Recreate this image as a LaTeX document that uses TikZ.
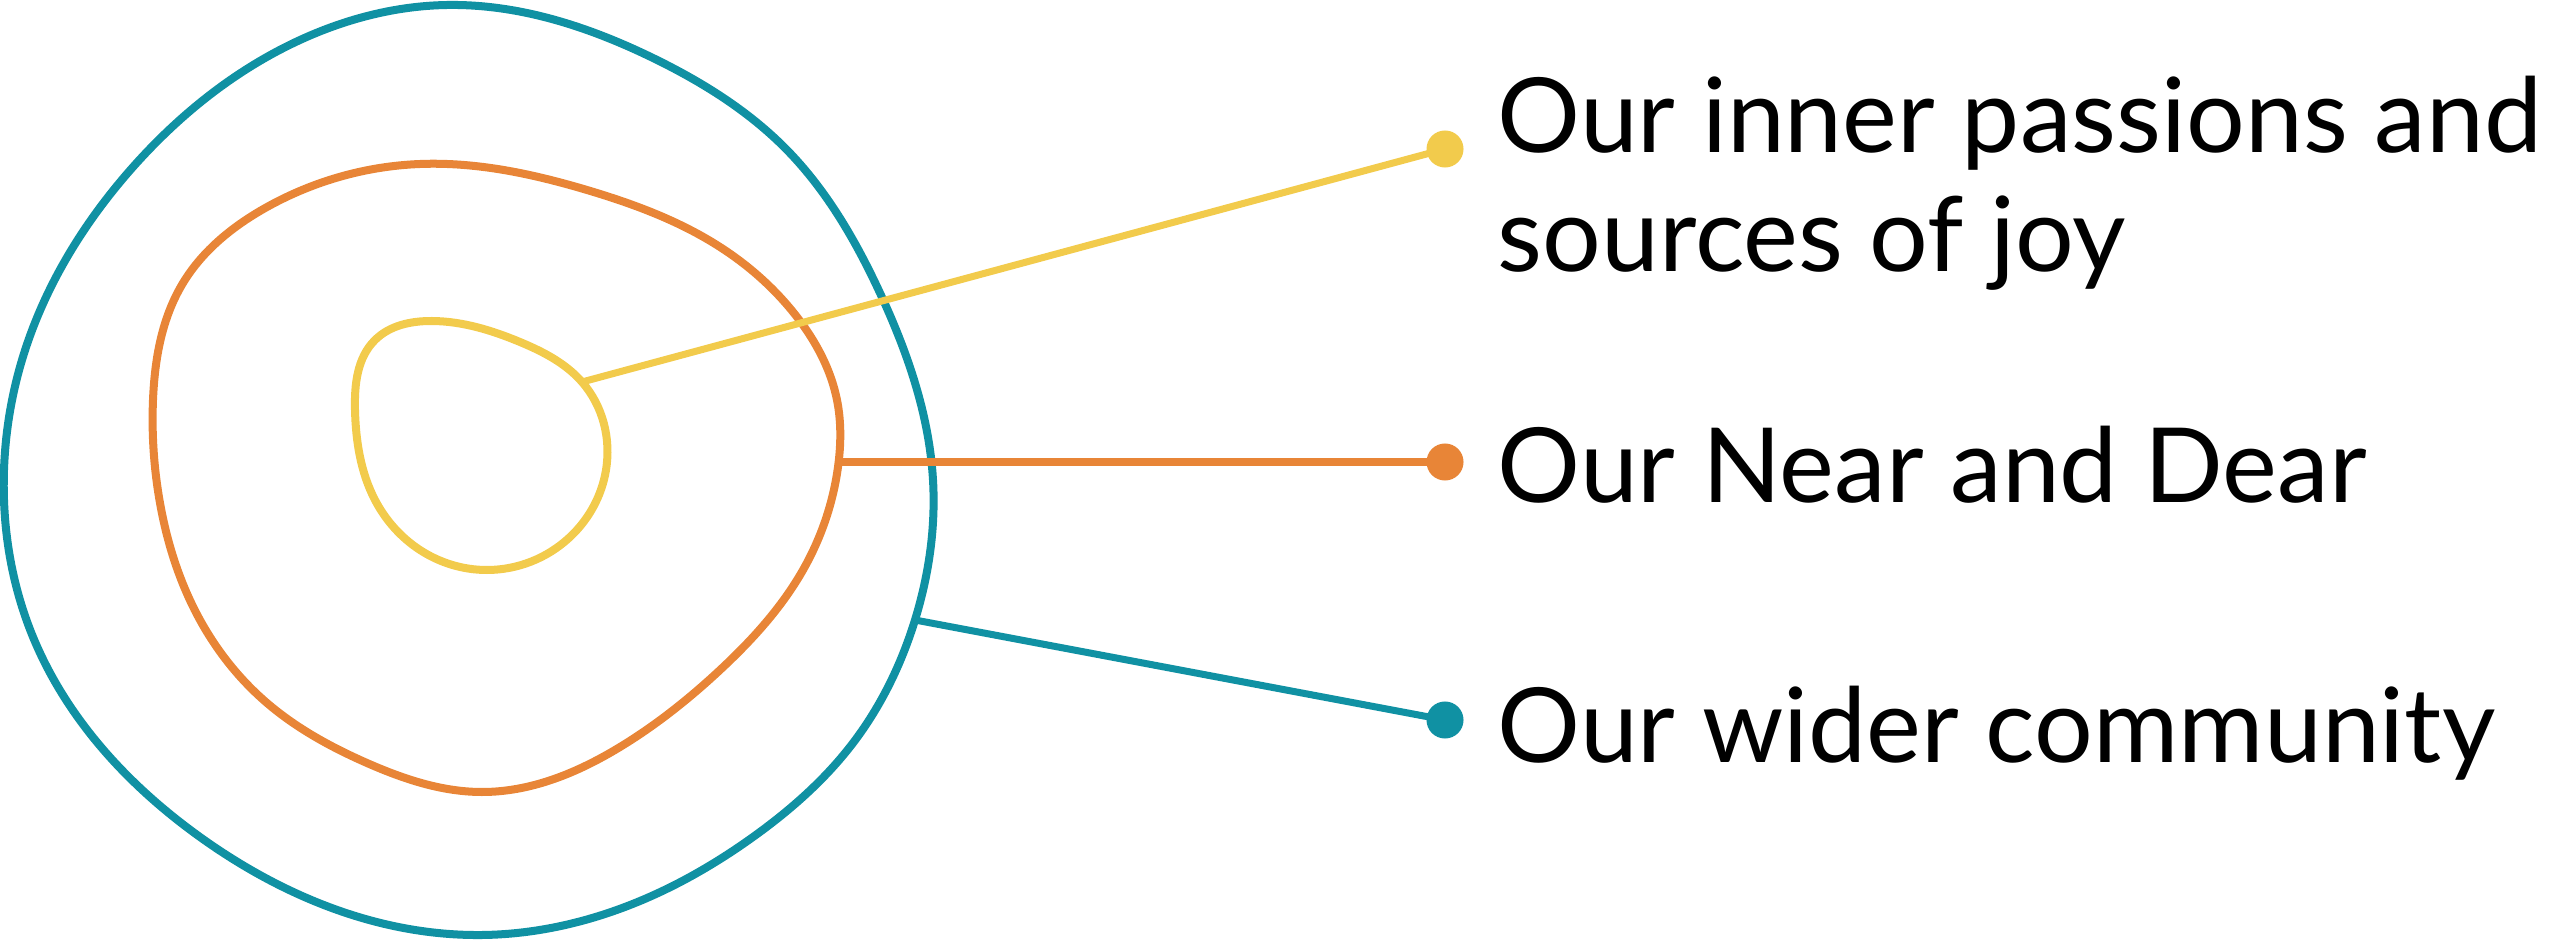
\documentclass[tikz,border=0pt]{standalone}
\usepackage{fontspec}
\setmainfont{Lato}
\usetikzlibrary{hobby}
\definecolor{cteal}{RGB}{16,145,163}
\definecolor{corange}{RGB}{232,133,55}
\definecolor{cyellow}{RGB}{242,203,76}
\begin{document}
\begin{tikzpicture}[x=0.01cm,y=-0.01cm,
  ring/.style={line width=0.08cm, line join=round, use Hobby shortcut, closed=true},
  conn/.style={line width=0.07cm},
  dot/.style={circle, inner sep=0pt, minimum size=0.37cm},
  lbl/.style={anchor=base west, inner sep=0pt, font=\fontsize{29.5}{33.86}\selectfont, align=left}]
\useasboundingbox (0,0) rectangle (2560,940);

% outer teal
\draw[ring, cteal] (447,5) .. (653,58) .. (787,150) .. (880,293) .. (933,480)
 .. (915,620) .. (853,743) .. (753,837) .. (647,898) .. (482,935) .. (200,837) .. (33,637)
 .. (4,470) .. (22,360) .. (133,167) .. (300,40);
% middle orange
\draw[ring, corange] (420,164) .. (587,190) .. (720,247) .. (797,317) .. (837,400)
 .. (838,467) .. (803,570) .. (720,670) .. (620,747) .. (482,792) .. (367,763)
 .. (267,703) .. (200,620) .. (160,503) .. (153,400) .. (183,283) .. (267,207);
% inner yellow
\draw[ring, cyellow] (432,321) .. (520,342) .. (582,382) .. (606,470) .. (570,537)
 .. (487,570) .. (420,550) .. (375,500) .. (355,410) .. (375,340);

\coordinate (yj) at (582,382);
\coordinate (oj) at (839,462);
\coordinate (tj) at (915,620);

\node[dot, fill=cyellow] (ydot) at (1445,149) {};
\node[dot, fill=corange] (odot) at (1445,462) {};
\node[dot, fill=cteal] (tdot) at (1445,720) {};

\draw[conn, cyellow] (yj) -- (ydot.center);
\draw[conn, corange] (oj) -- (odot.center);
\draw[conn, cteal] (tj) -- (tdot.center);

\node[lbl] (t1) at (1497,272) {Our inner passions and\\sources of joy};
\node[lbl] (t2) at (1497,502) {Our Near and Dear};
\node[lbl] (t3) at (1497,762) {Our wider community};
\end{tikzpicture}
\end{document}
